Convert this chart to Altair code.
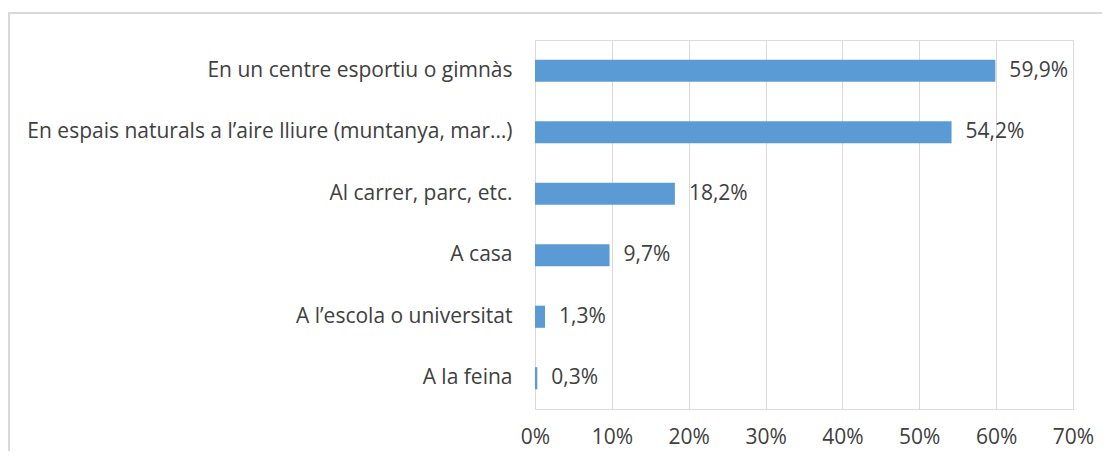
import altair as alt
import pandas as pd

categories = [
    "En un centre esportiu o gimnàs",
    "En espais naturals a l’aire lliure (muntanya, mar…)",
    "Al carrer, parc, etc.",
    "A casa",
    "A l’escola o universitat",
    "A la feina",
]
values = [0.599, 0.542, 0.182, 0.097, 0.013, 0.003]
x_ticks = [0, 0.1, 0.2, 0.3, 0.4, 0.5, 0.6, 0.7]

df = pd.DataFrame({"cat": categories, "v": values})

FONT = "Open Sans"
FS = 21
TXT = "#404040"
W, H = 538, 369
PL, PT = 527, 32
PR, PB = 29, 42

y_enc = alt.Y("cat:N", sort=categories, title=None,
              scale=alt.Scale(paddingInner=0.64, paddingOuter=0.32),
              axis=alt.Axis(domain=False, ticks=False, grid=False, labelPadding=23,
                            labelFontSize=FS, labelFont=FONT, labelColor=TXT, labelLimit=600))
x_enc = alt.X("v:Q", title=None,
              scale=alt.Scale(domain=[0, 0.7], nice=False, zero=True),
              axis=alt.Axis(values=x_ticks, format=".0%", domain=False, ticks=False,
                            grid=True, gridColor="#D9D9D9", gridWidth=1, labelFlush=False,
                            labelPadding=17, labelFontSize=FS, labelFont=FONT,
                            labelColor=TXT))

base = alt.Chart(df)

bars = base.mark_bar(color="#5B9BD5").encode(x=x_enc, y=y_enc)

labels = base.transform_calculate(
    lab="replace(format(datum.v*100, '.1f'), '.', ',') + '%'"
).mark_text(align="left", baseline="middle", dx=14, fontSize=FS, font=FONT,
            color=TXT).encode(x="v:Q", y=alt.Y("cat:N", sort=categories), text="lab:N")

border = alt.Chart(pd.DataFrame({"a": [0]})).mark_rect(
    fill=None, stroke="#D9D9D9", strokeWidth=2
).encode(x=alt.value(-PL + 1), x2=alt.value(W + 80), y=alt.value(-27), y2=alt.value(H + 100))

chart = alt.layer(border, bars, labels).properties(
    width=W, height=H,
    autosize=alt.AutoSizeParams(type="none"),
    padding={"left": PL, "top": PT, "right": PR, "bottom": PB},
).configure_view(stroke=None).configure(background="white")

chart.save("out.html", embed_options={"renderer": "svg", "actions": False})
